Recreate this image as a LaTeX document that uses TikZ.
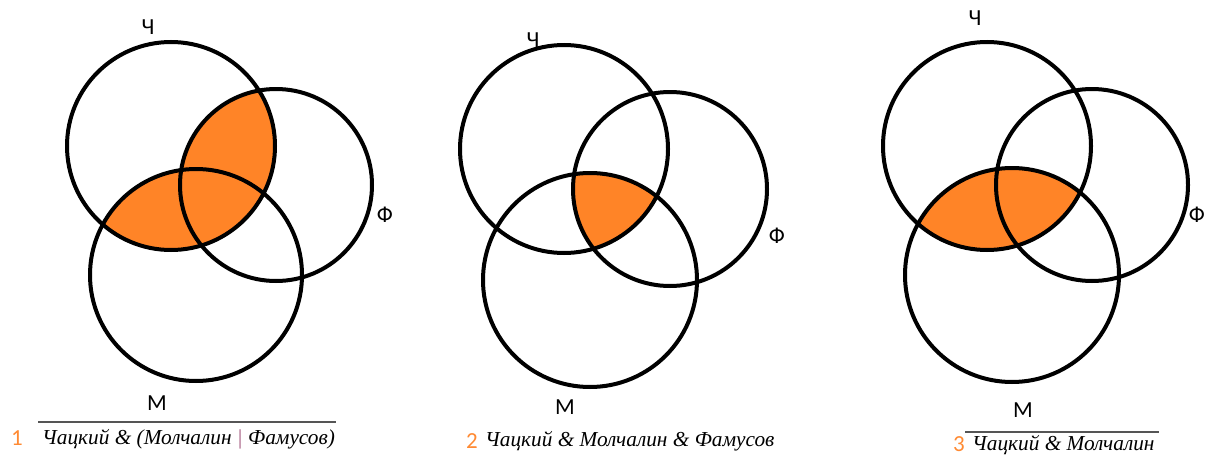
\documentclass[tikz,border=0pt]{standalone}
\usepackage{fontspec}
\setmainfont{Liberation Serif}
\newfontfamily\lblfont{Carlito}
\usetikzlibrary{positioning}
\definecolor{C_FILL}{HTML}{FF8427}
\definecolor{C_NUM} {HTML}{FF8A33}
\definecolor{C_RULE}{HTML}{555555}
\definecolor{C_BAR} {HTML}{A0527A}
\tikzset{
  %% -- set outline --
  venn/ring/.style={
    draw=black, line width=4pt, circle,
    inner sep=0pt, outer sep=0pt
  },
  %% -- set letter --
  venn/lbl/.style={font=\lblfont\fontsize{23}{23}\selectfont, inner sep=0pt},
  %% -- formula under a panel --
  venn/cap/.style={
    font=\itshape\fontsize{21.3}{21.3}\selectfont,
    inner sep=0pt, anchor=base west
  },
  %% -- panel number --
  venn/num/.style={
    font=\lblfont\fontsize{23}{23}\selectfont,
    text=C_NUM, inner sep=0pt, anchor=base east
  },
  %% -- rule above a formula --
  venn/rule/.style={draw=C_RULE, line width=1.4pt},
}

\begin{document}
\begin{tikzpicture}[x=1pt, y=-1pt]

\useasboundingbox (0,0) rectangle (1205,455);

%% ━━━━━━━━━━━━━━━━━━━━━━━━━━━━━━━━━━━━━━━━━━━━━━━━━━━━━━━━━━━━━━━━━━━━━
%%  PANEL 1 — Ч & (М | Ф)
%% ━━━━━━━━━━━━━━━━━━━━━━━━━━━━━━━━━━━━━━━━━━━━━━━━━━━━━━━━━━━━━━━━━━━━━
\begin{scope}
  \clip (171,146) circle (104pt);
  \fill[C_FILL] (276,185) circle (96pt) (196,275) circle (106pt);
\end{scope}

\node[venn/ring, minimum size=208pt] (ch1) at (171,146) {};
\node[venn/ring, minimum size=192pt] (fa1) at (276,185) {};
\node[venn/ring, minimum size=212pt] (mo1) at (196,275) {};

\node[venn/lbl] (ch1lbl) at (148,27)  {Ч};
\node[venn/lbl] (fa1lbl) at (385,215) {Ф};
\node[venn/lbl] (mo1lbl) at (157,403) {М};

\draw[venn/rule] (38,422) -- (336,422);
\node[venn/cap] (cap1) at (42,444)
  {Чацкий \& (Молчалин {\color{C_BAR}|} Фамусов)};
\node[venn/num] (num1) at (23,445) {1};

%% ━━━━━━━━━━━━━━━━━━━━━━━━━━━━━━━━━━━━━━━━━━━━━━━━━━━━━━━━━━━━━━━━━━━━━
%%  PANEL 2 — Ч & М & Ф
%% ━━━━━━━━━━━━━━━━━━━━━━━━━━━━━━━━━━━━━━━━━━━━━━━━━━━━━━━━━━━━━━━━━━━━━
\begin{scope}
  \clip (564,149) circle (104pt);
  \clip (590,280) circle (107pt);
  \fill[C_FILL] (670,189) circle (97pt);
\end{scope}

\node[venn/ring, minimum size=208pt] (ch2) at (564,149) {};
\node[venn/ring, minimum size=194pt] (fa2) at (670,189) {};
\node[venn/ring, minimum size=214pt] (mo2) at (590,280) {};

\node[venn/lbl] (ch2lbl) at (533,40)  {Ч};
\node[venn/lbl] (fa2lbl) at (777,236) {Ф};
\node[venn/lbl] (mo2lbl) at (565,407) {М};

\node[venn/cap] (cap2) at (485,446) {Чацкий \& Молчалин \& Фамусов};
\node[venn/num] (num2) at (478,448) {2};

%% ━━━━━━━━━━━━━━━━━━━━━━━━━━━━━━━━━━━━━━━━━━━━━━━━━━━━━━━━━━━━━━━━━━━━━
%%  PANEL 3 — Ч & М
%% ━━━━━━━━━━━━━━━━━━━━━━━━━━━━━━━━━━━━━━━━━━━━━━━━━━━━━━━━━━━━━━━━━━━━━
\begin{scope}
  \clip (987,146) circle (104pt);
  \fill[C_FILL] (1012,275) circle (107pt);
\end{scope}

\node[venn/ring, minimum size=208pt] (ch3) at (987,146)  {};
\node[venn/ring, minimum size=192pt] (fa3) at (1092,185) {};
\node[venn/ring, minimum size=214pt] (mo3) at (1012,275) {};

\node[venn/lbl] (ch3lbl) at (975,18)   {Ч};
\node[venn/lbl] (fa3lbl) at (1197,215) {Ф};
\node[venn/lbl] (mo3lbl) at (1023,410) {М};

\draw[venn/rule] (965,432) -- (1159,432);
\node[venn/cap] (cap3) at (972,450) {Чацкий \& Молчалин};
\node[venn/num] (num3) at (965,451) {3};

\end{tikzpicture}
\end{document}
